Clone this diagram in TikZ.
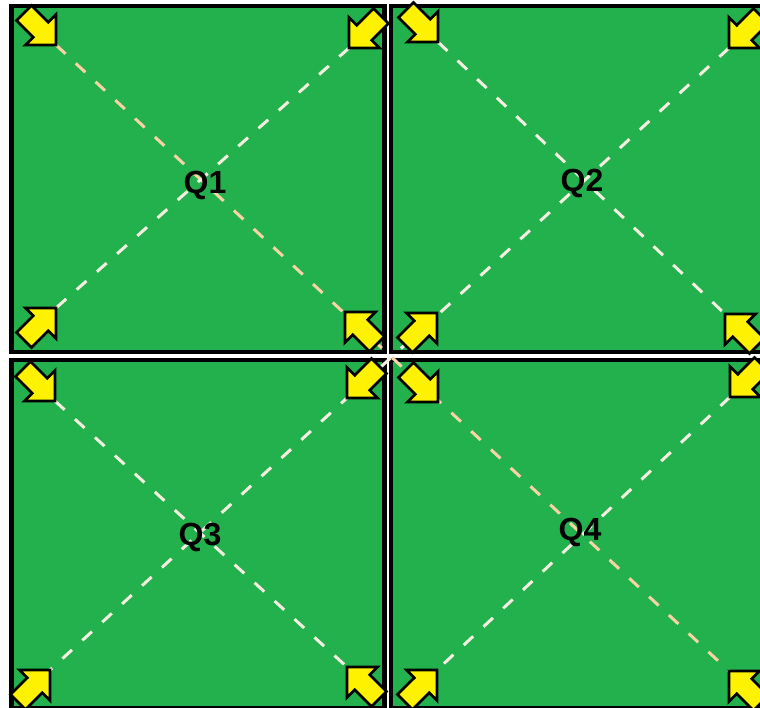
\documentclass[tikz,border=0pt]{standalone}
\usepackage{fontspec}
\setmainfont{Liberation Sans}
\definecolor{boxgreen}{HTML}{22B14C}
\definecolor{peach}{HTML}{F8D3A4}
\definecolor{pale}{HTML}{F4EEE2}
\begin{document}
\begin{tikzpicture}[x=1pt,y=-1pt,
  quad/.style={draw=black, line width=4.5pt, fill=boxgreen, rectangle, inner sep=0pt, outer sep=0pt},
  qlabel/.style={font=\bfseries\fontsize{32}{32}\selectfont, inner sep=0pt},
  diag/.style={line width=3pt, dash pattern=on 13pt off 14pt},
  peachdiag/.style={diag, draw=peach},
  palediag/.style={diag, draw=pale},
  arrowsty/.style={draw=black, fill=yellow, line width=2.7pt, line join=miter}
]
\useasboundingbox (0,0) rectangle (760,707);
\clip (0,0) rectangle (760,707);

% quadrant boxes
\node[quad, minimum width=373pt, minimum height=346pt] (q1) at (198,179) {};
\node[quad, minimum width=379pt, minimum height=346pt] (q2) at (580.5,179) {};
\node[quad, minimum width=373pt, minimum height=348pt] (q3) at (198,534) {};
\node[quad, minimum width=379pt, minimum height=348pt] (q4) at (580.5,534) {};

% arrow tips
\coordinate (q1tl) at (56,45);   \coordinate (q1tr) at (349,48);
\coordinate (q1bl) at (56,308);  \coordinate (q1br) at (345,312);
\coordinate (q2tl) at (438,42);  \coordinate (q2tr) at (729,48);
\coordinate (q2bl) at (437,313); \coordinate (q2br) at (725,314);
\coordinate (q3tl) at (55,401);  \coordinate (q3tr) at (347,398);
\coordinate (q3bl) at (50,670);  \coordinate (q3br) at (347,667);
\coordinate (q4tl) at (438,402); \coordinate (q4tr) at (730,397);
\coordinate (q4bl) at (437,670); \coordinate (q4br) at (729,671);

% diagonals
\draw[peachdiag] (q1tl) -- (q4br);
\draw[palediag] (q2tr) -- (q3bl);
\draw[palediag] (q1tr) -- (q1bl);
\draw[palediag] (q2tl) -- (q2br);
\draw[palediag] (q3tl) -- (q3br);
\draw[palediag] (q4tr) -- (q4bl);

% yellow corner arrows (tip at origin, pointing toward (sx,sy))
\newcommand{\yarrow}[3]{%
  \begin{scope}[shift={(#1)}, xscale=#2, yscale=#3]
    \draw[arrowsty] (0,0) -- (0,-30.5) -- (-7.78,-22.7) -- (-24.5,-39.5)
      -- (-39.5,-24.5) -- (-22.7,-7.78) -- (-30.5,0) -- cycle;
  \end{scope}}
\foreach \q in {q1,q2,q3,q4}{
  \yarrow{\q tl}{1}{1}
  \yarrow{\q tr}{-1}{1}
  \yarrow{\q bl}{1}{-1}
  \yarrow{\q br}{-1}{-1}
}

% labels
\node[qlabel] (lq1) at (205,185) {Q1};
\node[qlabel] (lq2) at (582,183) {Q2};
\node[qlabel] (lq3) at (200,537) {Q3};
\node[qlabel] (lq4) at (580,532) {Q4};
\end{tikzpicture}
\end{document}
